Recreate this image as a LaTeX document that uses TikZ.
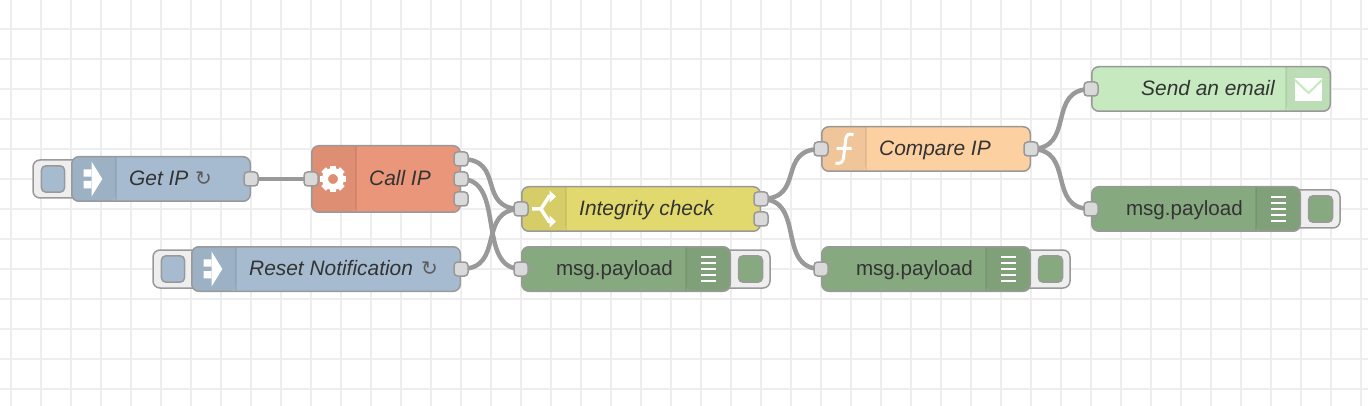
\documentclass[tikz,border=0pt]{standalone}
\usepackage{fontspec}
\setmainfont{Liberation Sans}
\newfontfamily\symbolfont{DejaVu Sans}
\usepackage{tikz}
\usetikzlibrary{positioning,calc,backgrounds}
\definecolor{GridGrey}{HTML}{EEEEEE}
\definecolor{WireGrey}{HTML}{999999}
\definecolor{PortGrey}{HTML}{D9D9D9}
\definecolor{InjectBlue}{HTML}{A6BBCF}
\definecolor{ExecSalmon}{HTML}{E9967A}
\definecolor{SwitchYellow}{HTML}{E2D96E}
\definecolor{FuncOrange}{HTML}{FDD0A2}
\definecolor{DebugGreen}{HTML}{87A980}
\definecolor{MailGreen}{HTML}{C7E9C0}
\definecolor{TextDark}{HTML}{333333}

\begin{document}
\begin{tikzpicture}[
  x=1pt,y=-1pt,
  gridline/.style={draw=GridGrey,line width=2pt},
  wire/.style={draw=WireGrey,line width=4.5pt},
  flownode/.style={draw=WireGrey,line width=1.5pt,rounded corners=7pt,minimum height=44.5pt,inner sep=0pt,outer sep=0pt},
  iconleft/.style={flownode,path picture={
    \fill[black,opacity=0.05] (path picture bounding box.south west) rectangle +(44.25,-200);
    \draw[black,opacity=0.07,line width=1.5pt] ($(path picture bounding box.south west)+(44.25,0)$) -- +(0,-200);}},
  iconright/.style={flownode,path picture={
    \fill[black,opacity=0.05] (path picture bounding box.south east) rectangle +(-44.25,-200);
    \draw[black,opacity=0.07,line width=1.5pt] ($(path picture bounding box.south east)+(-44.25,0)$) -- +(0,-200);}},
  port/.style={draw=WireGrey,fill=PortGrey,line width=1.5pt,rounded corners=3.5pt,minimum size=14pt,inner sep=0pt,outer sep=0pt},
  buttonbox/.style={draw=WireGrey,fill=GridGrey,line width=1.5pt,rounded corners=7pt,minimum width=50pt,minimum height=38pt,inner sep=0pt},
  buttontop/.style={draw=WireGrey,line width=1.5pt,rounded corners=4.5pt,minimum width=23.2pt,minimum height=26.4pt,inner sep=0pt},
  nodetext/.style={text=TextDark,font=\fontsize{20.9pt}{24pt}\selectfont\itshape,inner sep=0pt,anchor=base west},
  debugtext/.style={text=TextDark,font=\fontsize{20.6pt}{24pt}\selectfont,inner sep=0pt,anchor=base east},
  reloadmark/.style={text=TextDark!80,font=\symbolfont\itshape\fontsize{20pt}{24pt}\selectfont},
  whiteicon/.style={draw=white,line width=3.5pt}
]
\useasboundingbox (0,0) rectangle (1368,406);

% Inject nodes
\node[buttonbox] (getipbtn) at (58,179) {};
\node[buttontop,fill=InjectBlue] (getiptop) at (53,179) {};
\node[iconleft,fill=InjectBlue,minimum width=178.5pt] (getip) at (161,179) {};
\node[nodetext] (getiptxt) at (129,186) {Get IP};
\node[nodetext,reloadmark] (getipmark) at (195,186) {↻};
\node[buttonbox] (resetbtn) at (178,269) {};
\node[buttontop,fill=InjectBlue] (resettop) at (173,269) {};
\node[iconleft,fill=InjectBlue,minimum width=268.5pt] (reset) at (326,269) {};
\node[nodetext] (resettxt) at (249,276) {Reset Notification};
\node[nodetext,reloadmark] (resetmark) at (421,276) {↻};
\foreach \ox/\oy in {71/179,191/269} {
  \fill[white,shift={(\ox,\oy)}] (12.7,-9.7) rectangle (21,-2.3) (12.7,2) rectangle (21,9.3)
    (20.7,-17.3) -- (31.3,0) -- (20.7,17.3) -- cycle;
}

% Exec node
\node[iconleft,fill=ExecSalmon,minimum width=148.5pt,minimum height=66.5pt] (callip) at (386,179) {};
\node[nodetext] (calliptxt) at (369,186) {Call IP};
\draw[white,line width=6pt] (333,179) circle (8pt);
\foreach \ang in {0,45,...,315} {
  \fill[white,rotate around={\ang:(333,179)}] (329.7,165.7) rectangle (336.3,171);
}

% Switch node
\node[iconleft,fill=SwitchYellow,minimum width=238.5pt] (integrity) at (641,209) {};
\node[nodetext] (integritytxt) at (579,216) {Integrity check};
\draw[whiteicon] (532,209) -- (541,209) -- (549,196.5) -- (552,196.5)
  (541,209) -- (549,221.5) -- (552,221.5);
\fill[white] (549.5,190.5) -- (556,196.5) -- (549.5,202.5) -- cycle (549.5,215.5) -- (556,221.5) -- (549.5,227.5) -- cycle;

% Function node
\node[iconleft,fill=FuncOrange,minimum width=208.5pt] (compare) at (926,149) {};
\node[nodetext] (comparetxt) at (879,156) {Compare IP};
\draw[white,line width=3pt] (853.5,135) .. controls (849,133) and (846,134) .. (845.5,141)
  -- (843.5,158) .. controls (843,163) and (839,164) .. (835.5,163) (836.5,148.5) -- (851.5,148.5);

% Mail node
\node[iconright,fill=MailGreen,minimum width=238.5pt] (email) at (1211,89) {};
\node[nodetext,anchor=base east] (emailtxt) at (1275,96) {Send an email};
\fill[white] (1295,78) rectangle (1322,101);
\draw[MailGreen,line width=2pt] (1294,79) -- (1308.5,93) -- (1323,79);

% Debug nodes
\foreach \dbg/\lx/\cy in {dbgone/521/269,dbgtwo/821/269,dbgthree/1091/209} {
  \node[buttonbox] (\dbg btn) at ({\lx+224},\cy) {};
  \node[buttontop,fill=DebugGreen,minimum width=24pt] (\dbg top) at ({\lx+229.5},\cy) {};
  \node[iconright,fill=DebugGreen,minimum width=208.5pt] (\dbg) at ({\lx+105},\cy) {};
  \node[debugtext] (\dbg txt) at ({\lx+152},{\cy+6.7}) {msg.payload};
  \foreach \k in {-2,...,2} {
    \fill[white] ({\lx+180},{\cy+6*\k-1.4}) rectangle ({\lx+195},{\cy+6*\k+1.4});
  }
}

% Ports
\node[port] (getipout) at (251,179) {};
\node[port] (resetout) at (461,269) {};
\node[port] (callipin) at (311,179) {};
\node[port] (callipouta) at (461,159) {};
\node[port] (callipoutb) at (461,179) {};
\node[port] (callipoutc) at (461,199) {};
\node[port] (integrityin) at (521,209) {};
\node[port] (integrityouta) at (761,199) {};
\node[port] (integrityoutb) at (761,219) {};
\node[port] (comparein) at (821,149) {};
\node[port] (compareout) at (1031,149) {};
\node[port] (emailin) at (1091,89) {};
\node[port] (dbgonein) at (521,269) {};
\node[port] (dbgtwoin) at (821,269) {};
\node[port] (dbgthreein) at (1091,209) {};

\begin{scope}[on background layer]
  % Grid
  \foreach \gx in {11,41,...,1361} { \draw[gridline] (\gx,0) -- (\gx,406); }
  \foreach \gy in {29,59,...,389} { \draw[gridline] (0,\gy) -- (1368,\gy); }
  % Wires
  \draw[wire] (getipout.center) -- (callipin.center);
  \foreach \from/\to in {callipouta/integrityin,callipoutb/dbgonein,resetout/integrityin,
      integrityouta/comparein,integrityouta/dbgtwoin,compareout/emailin,compareout/dbgthreein} {
    \draw[wire] (\from.center) .. controls +(45,0) and +(-45,0) .. (\to.center);
  }
\end{scope}
\end{tikzpicture}
\end{document}
